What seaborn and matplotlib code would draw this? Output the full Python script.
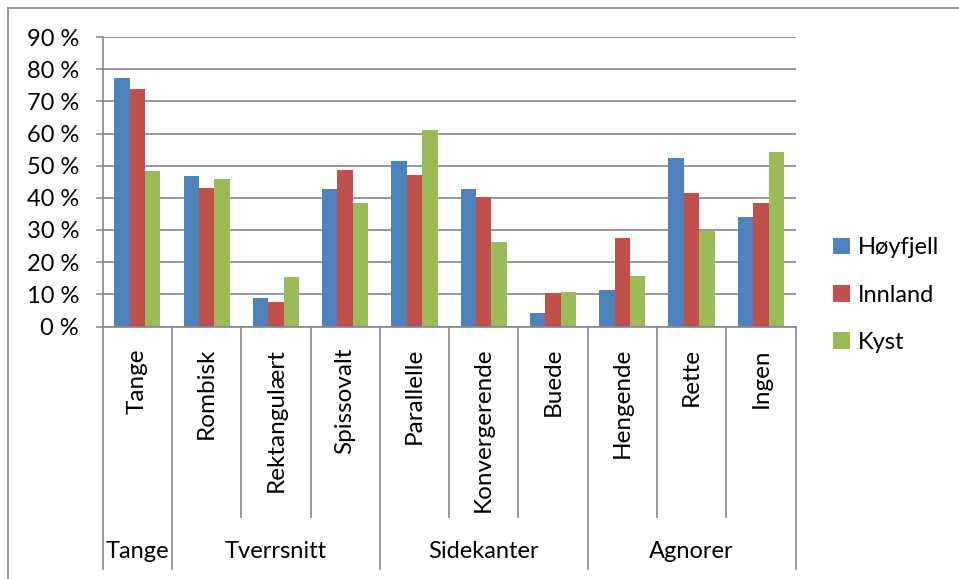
import matplotlib
matplotlib.use("Agg")
import matplotlib.pyplot as plt
import matplotlib.transforms as mtransforms
from matplotlib.lines import Line2D
import pandas as pd
import seaborn as sns

# Spydspiss-egenskaper per region (andel i prosent)
kategorier = ["Tange", "Rombisk", "Rektangulært", "Spissovalt", "Parallelle",
              "Konvergerende", "Buede", "Hengende", "Rette", "Ingen"]
grupper = ["Tange", "Tverrsnitt", "Sidekanter", "Agnorer"]
gruppe_storrelse = [1, 3, 3, 3]
regioner = ["Høyfjell", "Innland", "Kyst"]
hoyfjell = [77.4, 46.9, 9.0, 42.8, 51.3, 42.9, 4.2, 11.3, 52.5, 34.1]
innland = [73.9, 43.2, 7.5, 48.8, 47.2, 40.4, 10.5, 27.5, 41.4, 38.4]
kyst = [48.4, 45.7, 15.5, 38.4, 61.2, 26.2, 10.7, 15.7, 29.6, 54.3]
y_ticks = [0, 10, 20, 30, 40, 50, 60, 70, 80, 90]
farger = ["#4F81BD", "#C0504D", "#9BBB59"]

df = pd.DataFrame({
    "kategori": kategorier * 3,
    "region": [r for r in regioner for _ in kategorier],
    "andel": hoyfjell + innland + kyst,
})

plt.rcParams["font.family"] = ["Lato", "DejaVu Sans"]
GRA = "#868686"

W, H = 959, 579
fig = plt.figure(figsize=(W / 100, H / 100), dpi=100)
x0, x1 = 102.7, 795.5
y0, y1 = 326.5, 37.0
ax = fig.add_axes([x0 / W, 1 - y0 / H, (x1 - x0) / W, (y0 - y1) / H])

sns.barplot(data=df, x="kategori", y="andel", hue="region", order=kategorier,
            hue_order=regioner, palette=farger, saturation=1, width=0.667,
            ax=ax, linewidth=0)

ax.set_xlim(-0.5, len(kategorier) - 0.5)
ax.set_ylim(0, 90)
ax.set_yticks(y_ticks)
ax.set_yticklabels([f"{v} %" for v in y_ticks], fontsize=17)
ax.tick_params(axis="y", length=5, width=1.1, color=GRA, pad=12)
ax.set_xticks([])
ax.set_xlabel("")
ax.set_ylabel("")
ax.yaxis.grid(True, color=GRA, linewidth=1.2)
ax.set_axisbelow(True)
for side in ["top", "right"]:
    ax.spines[side].set_visible(False)
for side in ["left", "bottom"]:
    ax.spines[side].set_color(GRA)
    ax.spines[side].set_linewidth(1.2)

# Kategoriakse i to nivåer under plottet
trans = mtransforms.blended_transform_factory(ax.transData, ax.transAxes)
ph = y0 - y1
sub_bunn = -(517 - y0) / ph
grp_bunn = -(569 - y0) / ph
tekst_topp = -(348 - y0) / ph
grp_tekst = -(552 - y0) / ph

grense_grupper = [-0.5]
acc = -0.5
for n in gruppe_storrelse:
    acc += n
    grense_grupper.append(acc)

for i in range(len(kategorier) + 1):
    xb = i - 0.5
    bunn = grp_bunn if xb in grense_grupper else sub_bunn
    ax.add_line(Line2D([xb, xb], [0, bunn], transform=trans, color=GRA,
                       linewidth=1.2, clip_on=False))

for i, k in enumerate(kategorier):
    ax.text(i, tekst_topp, k, transform=trans, rotation=90, ha="center",
            va="top", fontsize=17.5)

start = -0.5
for g, n in zip(grupper, gruppe_storrelse):
    ax.text(start + n / 2, grp_tekst, g, transform=trans, ha="center",
            va="center", fontsize=17)
    start += n

# Tegnforklaring
handles, labels = ax.get_legend_handles_labels()
ax.legend(handles, labels, loc="center left", bbox_to_anchor=(833 / W, 1 - 295 / H),
          bbox_transform=fig.transFigure, frameon=False, fontsize=17,
          handlelength=0.7, handleheight=0.7, handletextpad=0.35,
          labelspacing=1.12, borderpad=0, borderaxespad=0)

# Ramme rundt diagramområdet
fig.add_artist(Line2D([8 / W, 1], [1 - 8 / H, 1 - 8 / H], transform=fig.transFigure,
                      color=GRA, linewidth=1.2))
fig.add_artist(Line2D([8 / W, 8 / W], [1 - 8 / H, 0], transform=fig.transFigure,
                      color=GRA, linewidth=1.2))

fig.savefig("out.png", dpi=100, facecolor="white")
